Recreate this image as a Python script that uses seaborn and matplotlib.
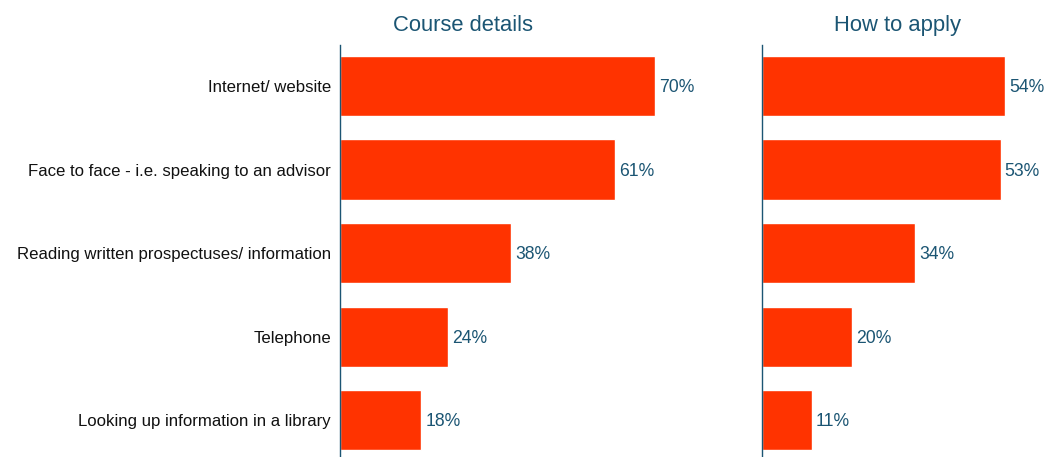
import matplotlib
matplotlib.use("Agg")
import matplotlib.pyplot as plt
import seaborn as sns
import pandas as pd

categories = [
    "Internet/ website",
    "Face to face - i.e. speaking to an advisor",
    "Reading written prospectuses/ information",
    "Telephone",
    "Looking up information in a library",
]
course_details = [70, 61, 38, 24, 18]
how_to_apply = [54, 53, 34, 20, 11]
panel_titles = ["Course details", "How to apply"]

sns.set_theme(style="white")
plt.rcParams["font.family"] = ["Liberation Sans", "DejaVu Sans"]

BAR = "#FF3300"
TEAL = "#1B5573"

fig = plt.figure(figsize=(10.47, 4.57), dpi=100)
W, H = 1047, 457
ax1 = fig.add_axes([340 / W, 0, 400 / W, (H - 45) / H])
ax2 = fig.add_axes([762 / W, 0, 285 / W, (H - 45) / H])

for ax, vals, title, xmax, show_labels, tx in [
    (ax1, course_details, panel_titles[0], 400 / 4.5, True, 0.3075),
    (ax2, how_to_apply, panel_titles[1], 285 / 4.5, False, 0.477),
]:
    df = pd.DataFrame({"cat": categories, "val": vals})
    sns.barplot(data=df, x="val", y="cat", color=BAR, saturation=1, width=0.72, ax=ax)
    ax.set_xlim(0, xmax)
    ax.set_ylim(4.44, -0.49)
    ax.set_xlabel("")
    ax.set_ylabel("")
    ax.set_xticks([])
    for s in ["top", "right", "bottom"]:
        ax.spines[s].set_visible(False)
    ax.spines["left"].set_color(TEAL)
    ax.spines["left"].set_linewidth(1.0)
    ax.tick_params(axis="y", length=0, pad=6.5)
    if show_labels:
        ax.set_yticks(range(len(categories)))
        ax.set_yticklabels(categories, fontsize=12.1, color="#111111")
    else:
        ax.set_yticks([])
    for c in ax.containers:
        texts = ax.bar_label(c, labels=[f"{v}%" for v in vals], padding=3,
                             fontsize=12.7, color=TEAL)
        for t in texts:
            x, y = t.xy
            t.xy = (x, y + 0.02)
    ax.text(tx, 1.034, title, transform=ax.transAxes,
            ha="center", va="baseline", fontsize=15.8, color=TEAL)
    ax.set_facecolor("white")

fig.savefig("out.png", dpi=100, facecolor="white")
